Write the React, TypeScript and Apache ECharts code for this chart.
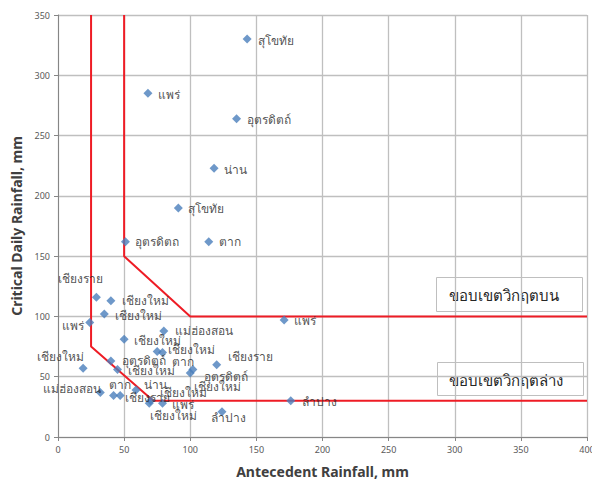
import React, { useEffect, useRef } from "react";
import * as echarts from "echarts";

// Point data: [antecedent rainfall, critical daily rainfall]
const names: string[] = [
  "สุโขทัย", "แพร่", "อุตรดิตถ์", "น่าน", "สุโขทัย", "อุตรดิตถ", "ตาก",
  "เชียงราย", "เชียงใหม่", "เชียงใหม่", "แพร่", "แม่ฮ่องสอน", "เชียงใหม่",
  "เชียงใหม่", "ตาก", "อุตรดิตถ์", "เชียงใหม่", "เชียงใหม่", "เชียงใหม่",
  "อุตรดิตถ์", "เชียงราย", "แม่ฮ่องสอน", "ตาก", "เชียงราย", "น่าน",
  "เชียงใหม่", "เชียงใหม่", "แพร่", "ลำปาง", "แพร่", "ลำปาง",
];
const antecedent: number[] = [
  143, 68, 135, 118, 91, 51, 114,
  29, 40, 35, 24, 80, 50,
  75, 79, 40, 19, 45, 102,
  100, 120, 32, 42, 47, 59,
  69, 70, 79, 124, 171, 176,
];
const critical: number[] = [
  330, 285, 264, 223, 190, 162, 162,
  116, 113, 102, 95, 88, 81,
  71, 70, 63, 57, 56, 56,
  53, 60, 37, 34.5, 34.5, 39,
  28, 30, 28, 21, 97, 30,
];
// label placement: [anchor, dx, dy]
const labelPlace: [string, number, number][] = [
  ["left", 11, 1], ["left", 10, 1], ["left", 10, 1], ["left", 10, 1], ["left", 10, 1], ["left", 10, 0], ["left", 10, 0],
  ["center", -16, -19], ["left", 11, 0], ["left", 11, 1], ["right", -6, 3], ["left", 11, 0], ["left", 10, 1],
  ["left", 11, -2], ["left", 10, 9], ["left", 11, -1], ["center", -23, -12], ["left", 10, 1], ["left", 1, 17],
  ["left", 14, 3], ["left", 11, -8], ["center", -28, -4], ["center", 6, -11], ["left", 5, 2], ["left", 8, -5],
  ["left", 1, 12], ["left", 9, -8], ["left", 10, 1], ["center", 7, 6], ["left", 10, 0], ["left", 11, 1],
];

const upperBoundary: [number, number][] = [[50, 350], [50, 150], [100, 100], [400, 100]];
const lowerBoundary: [number, number][] = [[25, 350], [25, 75], [72, 30], [400, 30]];

const xTitle = "Antecedent Rainfall, mm";
const yTitle = "Critical Daily Rainfall, mm";
const upperText = "ขอบเขตวิกฤตบน";
const lowerText = "ขอบเขตวิกฤตล่าง";

const FONT = "'Noto Sans', 'Open Sans', sans-serif";

export default function App() {
  const ref = useRef<HTMLDivElement>(null);
  useEffect(() => {
    if (!ref.current) return;
    const chart = echarts.init(ref.current, undefined, { renderer: "svg" });
    const pts = antecedent.map((x, i) => {
      const [anchor, dx, dy] = labelPlace[i];
      return {
        value: [x, critical[i]],
        label: {
          show: true,
          formatter: names[i],
          position: "inside",
          align: anchor,
          verticalAlign: "middle",
          offset: [dx, dy],
        },
      };
    });
    const boxStyle = { fill: "#ffffff", stroke: "#bfbfbf", lineWidth: 1 };
    chart.setOption({
      animation: false,
      backgroundColor: "#ffffff",
      textStyle: { fontFamily: FONT },
      grid: { left: 58, right: 5, top: 15, bottom: 43, containLabel: false, outerBoundsMode: "none" },
      xAxis: {
        type: "value",
        min: 0,
        max: 400,
        interval: 50,
        name: xTitle,
        nameLocation: "middle",
        nameGap: 27,
        nameTextStyle: { fontSize: 14, fontWeight: "bold", color: "#404040", fontFamily: FONT },
        axisLine: { show: true, lineStyle: { color: "#868686", width: 1 } },
        axisTick: { show: true, length: 4, lineStyle: { color: "#868686" } },
        axisLabel: { fontSize: 9, color: "#595959", margin: 8 },
        splitLine: { show: true, lineStyle: { color: "#bfbfbf", width: 1.3 } },
      },
      yAxis: {
        type: "value",
        min: 0,
        max: 350,
        interval: 50,
        name: yTitle,
        nameLocation: "middle",
        nameGap: 33,
        nameTextStyle: { fontSize: 14, fontWeight: "bold", color: "#404040", fontFamily: FONT },
        axisLine: { show: true, lineStyle: { color: "#868686", width: 1 } },
        axisTick: { show: true, length: 4, lineStyle: { color: "#868686" } },
        axisLabel: { fontSize: 9, color: "#595959", margin: 8 },
        splitLine: { show: true, lineStyle: { color: "#bfbfbf", width: 1.3 } },
      },
      series: [
        {
          type: "line",
          data: upperBoundary,
          symbol: "none",
          lineStyle: { color: "#ee1c25", width: 2 },
          z: 2,
        },
        {
          type: "line",
          data: lowerBoundary,
          symbol: "none",
          lineStyle: { color: "#ee1c25", width: 2 },
          z: 2,
        },
        {
          type: "scatter",
          data: pts,
          symbol: "diamond",
          symbolSize: 9,
          itemStyle: { color: "#4a7ebb" },
          label: { fontSize: 12, color: "#262626", fontFamily: FONT },
          z: 3,
        },
      ],
      graphic: [
        {
          type: "group",
          left: 436,
          top: 277,
          children: [
            { type: "rect", shape: { x: 0, y: 0, width: 146, height: 34 }, style: boxStyle },
            {
              type: "text",
              x: 12,
              y: 17,
              style: { text: upperText, fontSize: 15, fill: "#262626", fontFamily: FONT, verticalAlign: "middle" },
            },
          ],
        },
        {
          type: "group",
          left: 437,
          top: 362,
          children: [
            { type: "rect", shape: { x: 0, y: 0, width: 146, height: 33 }, style: boxStyle },
            {
              type: "text",
              x: 11,
              y: 17,
              style: { text: lowerText, fontSize: 15, fill: "#262626", fontFamily: FONT, verticalAlign: "middle" },
            },
          ],
        },
      ],
    });
    return () => chart.dispose();
  }, []);
  return <div ref={ref} style={{ position: "fixed", left: 0, top: 0, width: 592, height: 480 }} />;
}
